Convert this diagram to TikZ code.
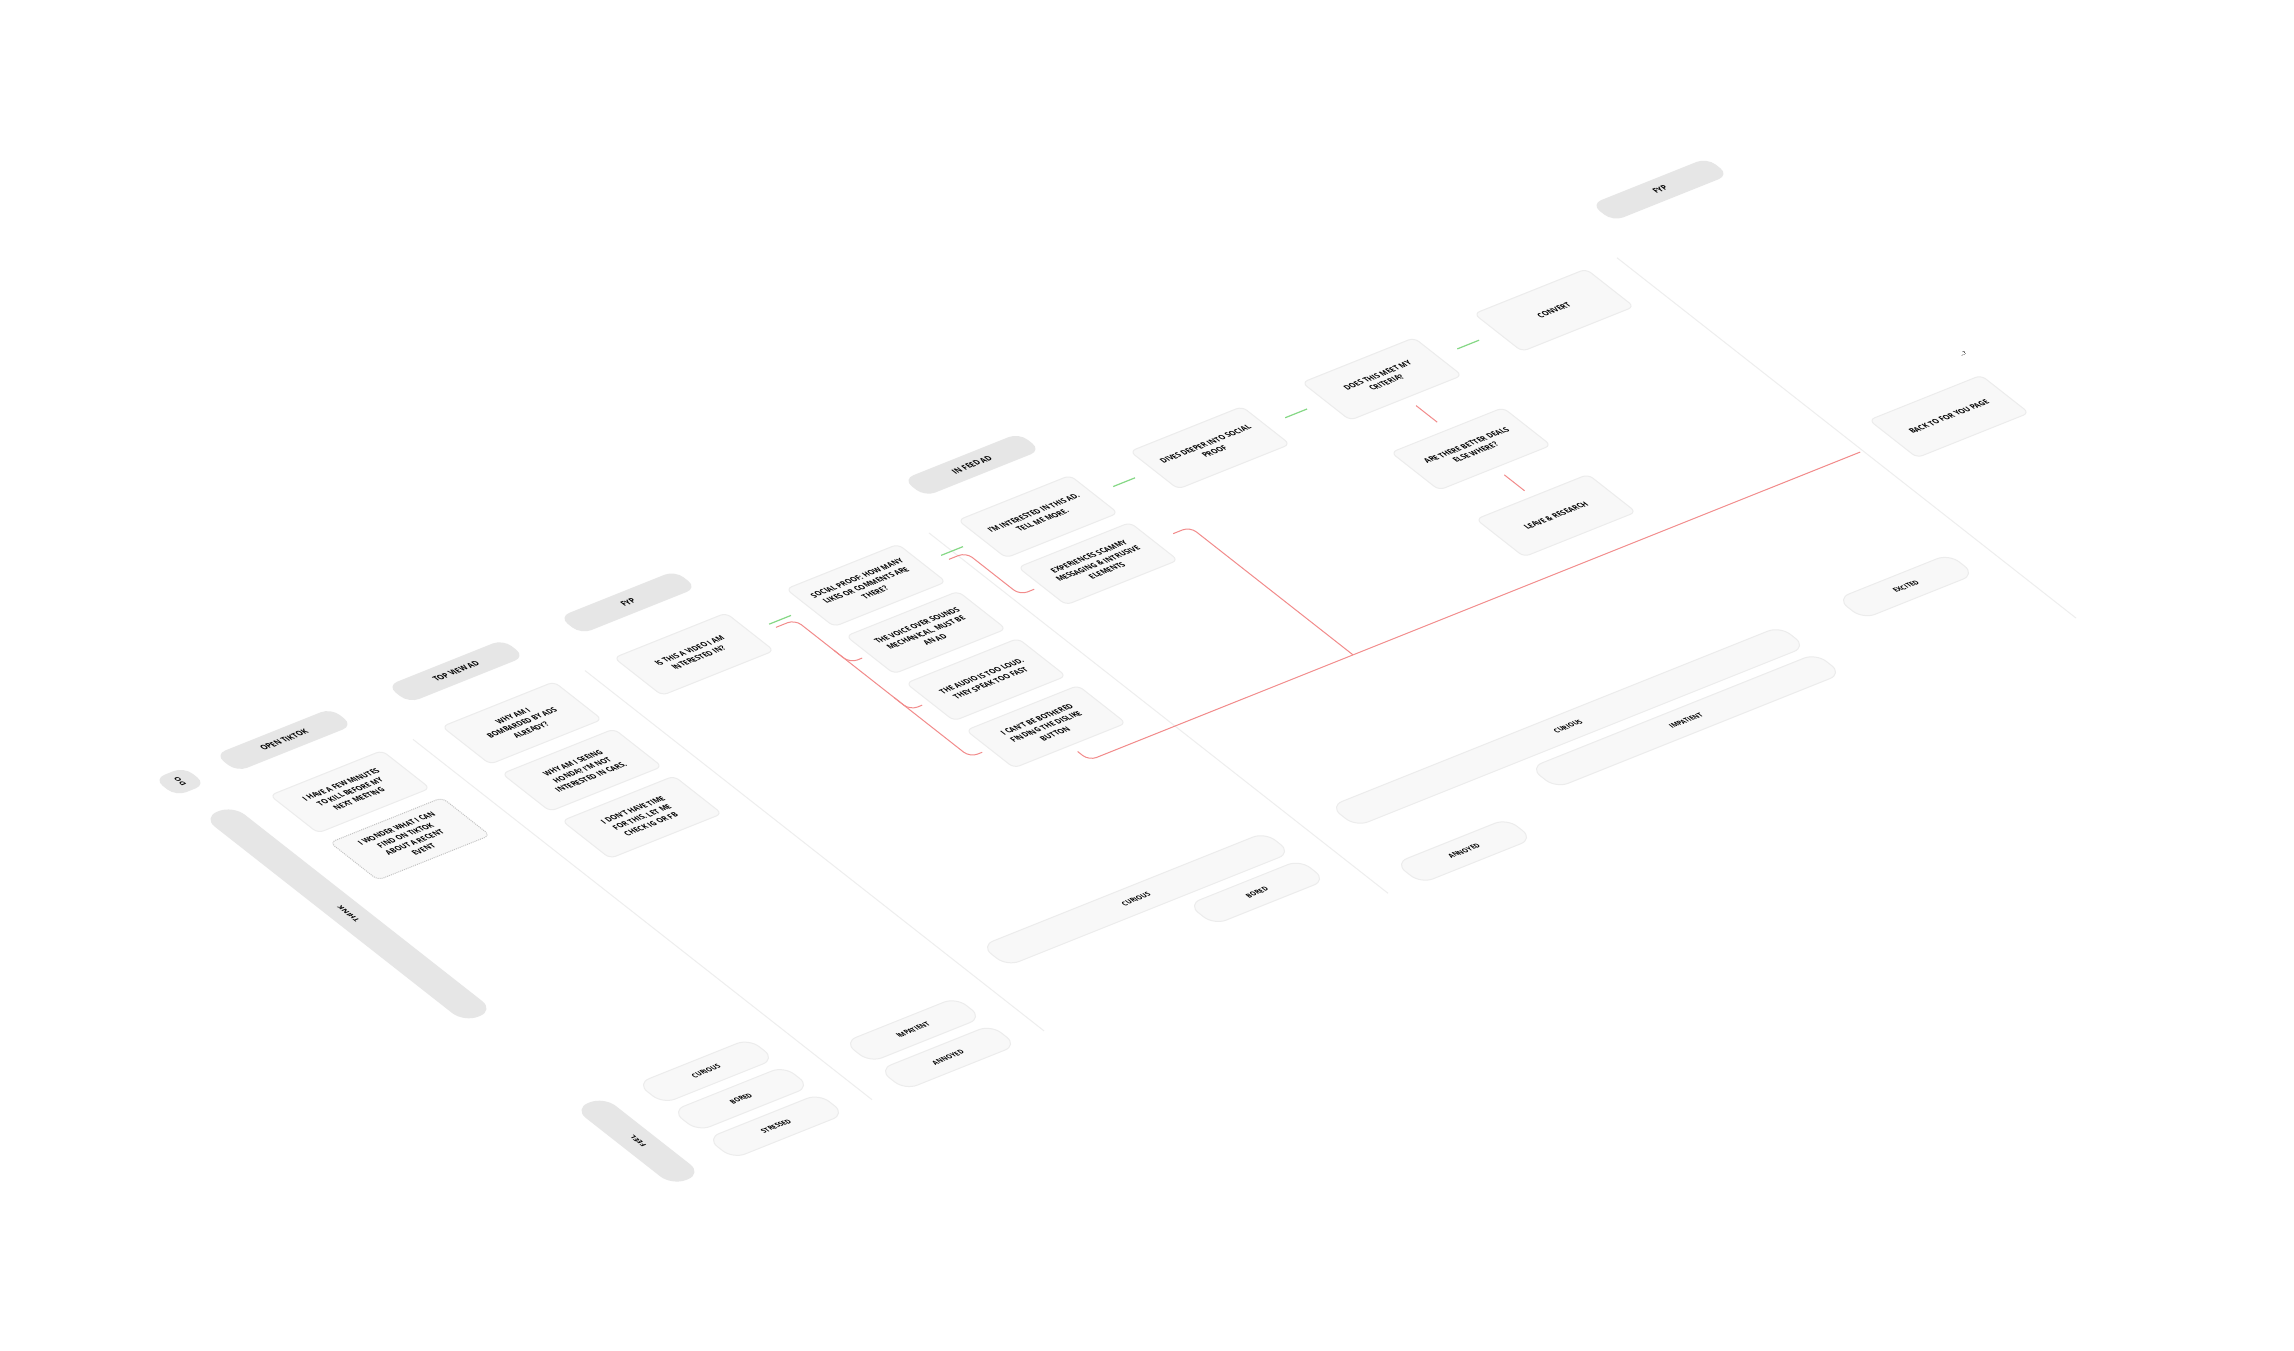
\documentclass[tikz,border=0pt]{standalone}
\usepackage{fontspec}
\setmainfont{Open Sans}
\usepackage{xcolor}
\usepackage{tikz}
\definecolor{stagegray}{HTML}{E6E6E6}
\definecolor{boxfill}{HTML}{F8F8F8}
\definecolor{boxline}{HTML}{ECECEC}
\definecolor{sepgray}{HTML}{EEEEEE}
\definecolor{okgreen}{HTML}{86D886}
\definecolor{nored}{HTML}{F28B8B}
\definecolor{dotgray}{HTML}{C4C4C4}
\tikzset{
  stage/.style={rectangle, rounded corners=11pt, fill=stagegray, minimum width=116pt,
                minimum height=22pt, inner sep=0pt, transform shape,
                font=\bfseries\fontsize{6.8}{7}\selectfont},
  lane/.style={rectangle, rounded corners=15pt, fill=stagegray, minimum height=30pt,
               inner sep=0pt, rotate=90, transform shape,
               font=\bfseries\fontsize{6}{6}\selectfont},
  thought/.style={rectangle, draw=boxline, line width=1pt, rounded corners=6pt,
                  fill=boxfill, minimum width=112pt, minimum height=48pt, align=center,
                  inner sep=2pt, transform shape, font=\bfseries\fontsize{6.6}{9}\selectfont},
  mood/.style={rectangle, draw=boxline, line width=1pt, rounded corners=13pt,
               fill=boxfill, minimum width=112pt, minimum height=26pt, inner sep=0pt,
               transform shape, font=\bfseries\fontsize{5.9}{6}\selectfont},
  lanesep/.style={draw=sepgray, line width=1pt},
  goline/.style={draw=okgreen, line width=1.2pt, shorten <=20pt, shorten >=20pt},
  stopline/.style={draw=nored, line width=1pt, rounded corners=8pt},
}
\begin{document}
\begin{tikzpicture}[x=1pt, y=1pt]
  \fill[white] (0,0) rectangle (2294,-1351);
  \useasboundingbox (0,0) rectangle (2294,-1351);
  \begin{scope}[cm={1,0.4,-1,0.785,(284pt,-740pt)}]
  \draw[lanesep] (86,-43) -- (86,-502);
  \draw[lanesep] (258,-43) -- (258,-502);
  \draw[lanesep] (602,-43) -- (602,-502);
  \draw[lanesep] (1290,-43) -- (1290,-502);

  \node[lane, minimum width=22pt, rounded corners=11pt] (do) at (-104,0) {DO};
  \node[lane, minimum width=261pt] (think) at (-104,-168.5) {THINK};
  \node[lane, minimum width=98pt] (feel) at (-104,-458) {FEEL};

  \node[stage] (open)   at (0,0)    {OPEN TIKTOK};
  \node[stage] (topview) at (172,0) {TOP VIEW AD};
  \node[stage] (fyp)    at (344,0)  {FYP};
  \node[stage] (infeed) at (688,0)  {IN FEED AD};
  \node[stage] (fypb)   at (1376,0) {FYP};

  \node[thought] (minutes) at (0,-66) {I HAVE A FEW MINUTES\\TO KILL BEFORE MY\\NEXT MEETING};
  \node[thought, draw=dotgray, densely dotted] (wonder) at (0,-126) {I WONDER WHAT I CAN\\FIND ON TIKTOK\\ABOUT A RECENT\\EVENT};
  \node[thought] (bombard) at (172,-66)  {WHY AM I\\BOMBARDED BY ADS\\ALREADY?};
  \node[thought] (honda)   at (172,-126) {WHY AM I SEEING\\HONDA? I'M NOT\\INTERESTED IN CARS.};
  \node[thought] (notime)  at (172,-186) {I DON'T HAVE TIME\\FOR THIS. LET ME\\CHECK IG OR FB};
  \node[thought] (video)   at (344,-66)  {IS THIS A VIDEO I AM\\INTERESTED IN?};
  \node[thought] (social)  at (516,-66)  {SOCIAL PROOF: HOW MANY\\LIKES OR COMMENTS ARE\\THERE?};
  \node[thought] (voice)   at (516,-126) {THE VOICE OVER SOUNDS\\MECHANICAL. MUST BE\\AN AD};
  \node[thought] (audio)   at (516,-186) {THE AUDIO IS TOO LOUD.\\THEY SPEAK TOO FAST};
  \node[thought] (dislike) at (516,-246) {I CAN'T BE BOTHERED\\FINDING THE DISLIKE\\BUTTON};
  \node[thought] (interest) at (688,-66) {I'M INTERESTED IN THIS AD.\\TELL ME MORE.};
  \node[thought] (scammy)  at (688,-126) {EXPERIENCES SCAMMY\\MESSAGING \& INTRUSIVE\\ELEMENTS};
  \node[thought] (dives)   at (860,-66)  {DIVES DEEPER INTO SOCIAL\\PROOF};
  \node[thought] (criteria) at (1032,-66) {DOES THIS MEET MY\\CRITERIA?};
  \node[thought] (deals)   at (1032,-155) {ARE THERE BETTER DEALS\\ELSE WHERE?};
  \node[thought] (leave)   at (1032,-240) {LEAVE \& RESEARCH};
  \node[thought] (convert) at (1204,-66) {CONVERT};
  \node[thought] (back)    at (1376,-289) {BACK TO FOR YOU PAGE};
  \node[font=\bfseries\fontsize{4}{4}\selectfont, transform shape] (dots) at (1438,-241) {...?};

  \node[mood] (curiousa)  at (0,-422)   {CURIOUS};
  \node[mood] (boreda)    at (0,-457)   {BORED};
  \node[mood] (stressed)  at (0,-492)   {STRESSED};
  \node[mood] (impatienta) at (172,-457) {IMPATIENT};
  \node[mood] (annoyeda)  at (172,-492) {ANNOYED};
  \node[mood, minimum width=284pt] (curiousb) at (430,-422) {CURIOUS};
  \node[mood] (boredb)    at (516,-457) {BORED};
  \node[mood, minimum width=450pt] (curiousc) at (862,-422) {CURIOUS};
  \node[mood, minimum width=286pt] (impatientc) at (945,-457) {IMPATIENT};
  \node[mood] (annoyedc)  at (688,-492) {ANNOYED};
  \node[mood] (excited)   at (1204,-418) {EXCITED};

  \draw[goline] (video.east) -- (social.west);
  \draw[goline] (social.east) -- (interest.west);
  \draw[goline] (interest.east) -- (dives.west);
  \draw[goline] (dives.east) -- (criteria.west);
  \draw[goline] (criteria.east) -- (convert.west);

  \draw[stopline, shorten <=22pt, shorten >=8pt] ([yshift=-5pt]video.east) -- (440,-71) -- (440,-246) -- (dislike.west);
  \draw[stopline, shorten >=8pt] (440,-110) -- (440,-126) -- (voice.west);
  \draw[stopline, shorten >=8pt] (440,-170) -- (440,-186) -- (audio.west);
  \draw[stopline, shorten <=22pt, shorten >=8pt] ([yshift=-6pt]social.east) -- (610,-72) -- (610,-126) -- (scammy.west);
  \draw[stopline, shorten <=20pt] (scammy.east) -- (780,-126) -- (780,-289);
  \draw[stopline, shorten <=9pt, shorten >=35pt] (dislike.south) -- (516,-289) -- (back.west);
  \draw[stopline, shorten <=12pt, shorten >=12pt] (criteria.south) -- (deals.north);
  \draw[stopline, shorten <=11pt, shorten >=9pt] (deals.south) -- (leave.north);
  \end{scope}
\end{tikzpicture}
\end{document}
